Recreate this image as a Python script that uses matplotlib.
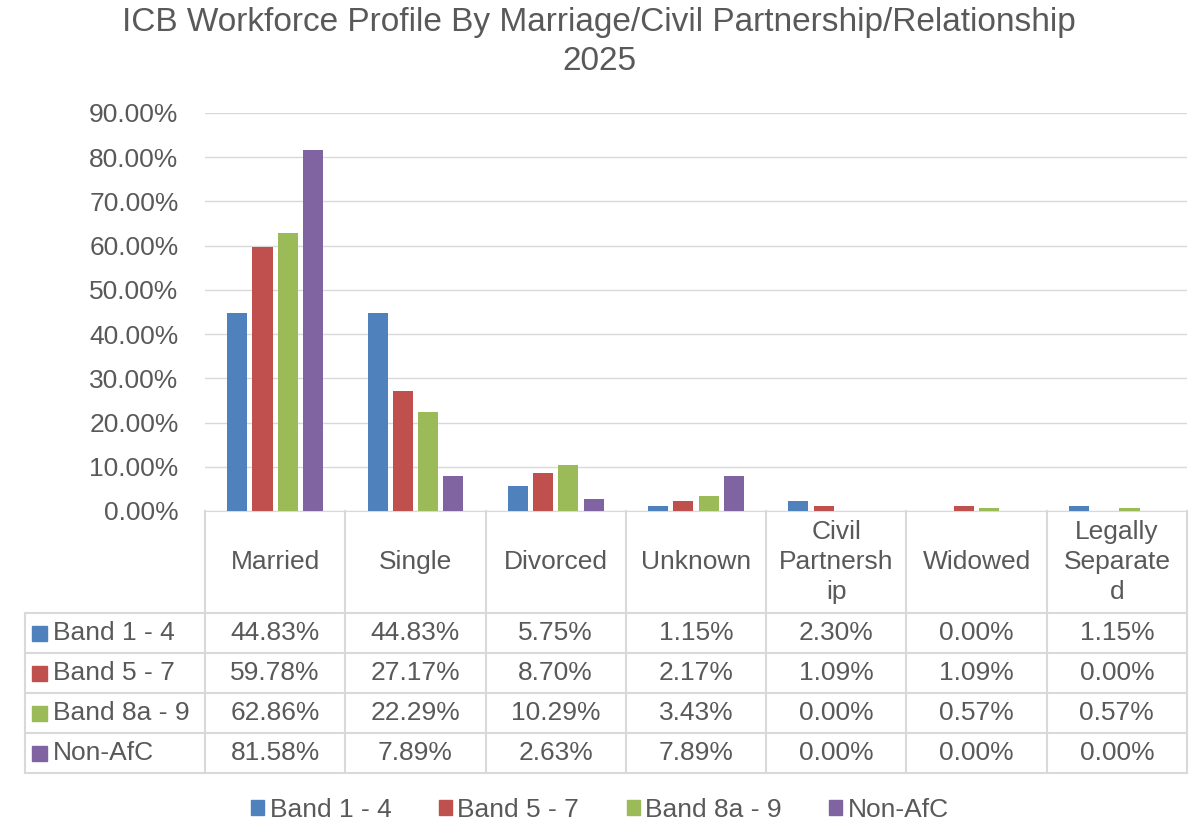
import matplotlib.pyplot as plt
from matplotlib.lines import Line2D
from matplotlib.patches import Rectangle, Patch
import numpy as np

plt.rcParams['font.family'] = ['Liberation Sans', 'DejaVu Sans']

categories = ['Married', 'Single', 'Divorced', 'Unknown', 'Civil Partnership', 'Widowed', 'Legally Separated']
header_labels = ['Married', 'Single', 'Divorced', 'Unknown', 'Civil\nPartnersh\nip', 'Widowed', 'Legally\nSeparate\nd']
series_names = ['Band 1 - 4', 'Band 5 - 7', 'Band 8a - 9', 'Non-AfC']
band_1_4 = [44.83, 44.83, 5.75, 1.15, 2.30, 0.00, 1.15]
band_5_7 = [59.78, 27.17, 8.70, 2.17, 1.09, 1.09, 0.00]
band_8a_9 = [62.86, 22.29, 10.29, 3.43, 0.00, 0.57, 0.57]
non_afc = [81.58, 7.89, 2.63, 7.89, 0.00, 0.00, 0.00]
series = [band_1_4, band_5_7, band_8a_9, non_afc]
colors = ['#4F81BD', '#C0504D', '#9BBB59', '#8064A2']
y_ticks = [0, 10, 20, 30, 40, 50, 60, 70, 80, 90]

W, H = 1198, 825
txt = '#595959'
grid_c = '#D9D9D9'
fs = 19


def fx(x):
    return x / W


def fy(y):
    return 1 - y / H


fig = plt.figure(figsize=(W / 100, H / 100), dpi=100)
left, right, top, base = 205, 1187, 113, 511
ax = fig.add_axes([fx(left), fy(base), (right - left) / W, (base - top) / H])

n = len(categories)
x = np.arange(n)
bw = 0.143
step = 0.18
for i, (vals, c) in enumerate(zip(series, colors)):
    ax.bar(x + (i - 1.5) * step, vals, width=bw, color=c, zorder=3)

ax.set_xlim(-0.5, n - 0.5)
ax.set_ylim(0, 90)
ax.set_yticks(y_ticks)
ax.set_yticklabels(['%.2f%%' % t for t in y_ticks], fontsize=fs, color=txt)
ax.set_xticks([])
ax.yaxis.grid(True, color=grid_c, linewidth=1, zorder=0)
ax.tick_params(axis='y', length=0, pad=19)
for s in ['top', 'right', 'left']:
    ax.spines[s].set_visible(False)
ax.spines['bottom'].set_color(grid_c)

fig.text(0.5, fy(22), 'ICB Workforce Profile By Marriage/Civil Partnership/Relationship',
         ha='center', va='center', fontsize=24, color=txt)
fig.text(0.5, fy(62), '2025', ha='center', va='center', fontsize=24, color=txt)

# data table below the axis
col_w = (right - left) / n
row_tops = [613, 653, 693, 733, 773]
tab_left = 25


def hline(x0, x1, y):
    fig.add_artist(Line2D([fx(x0), fx(x1)], [fy(y), fy(y)], color=grid_c, lw=1.5))


def vline(x, y0, y1):
    fig.add_artist(Line2D([fx(x), fx(x)], [fy(y0), fy(y1)], color=grid_c, lw=1.5))


for k in range(n + 1):
    vline(left + k * col_w, base, row_tops[-1])
vline(tab_left, row_tops[0], row_tops[-1])
for y in row_tops:
    hline(tab_left, right, y)

for k, lab in enumerate(header_labels):
    fig.text(fx(left + (k + 0.5) * col_w), fy((base + row_tops[0]) / 2), lab,
             ha='center', va='center', fontsize=fs, color=txt, linespacing=1.33)

for r, (name, vals, c) in enumerate(zip(series_names, series, colors)):
    yc = (row_tops[r] + row_tops[r + 1]) / 2
    fig.add_artist(Rectangle((fx(32), fy(yc + 7.5)), 15 / W, 15 / H, color=c,
                             transform=fig.transFigure))
    fig.text(fx(53), fy(yc), name, ha='left', va='center', fontsize=fs, color=txt)
    for k, v in enumerate(vals):
        fig.text(fx(left + (k + 0.5) * col_w), fy(yc), '%.2f%%' % v,
                 ha='center', va='center', fontsize=fs, color=txt)

handles = [Patch(color=c, label=nm) for c, nm in zip(colors, series_names)]
fig.legend(handles=handles, loc='center', bbox_to_anchor=(fx(600), fy(810)), ncol=4,
           frameon=False, fontsize=fs, handlelength=0.5, handleheight=0.5,
           handletextpad=0.2, columnspacing=1.8, labelcolor=txt,
           borderpad=0, borderaxespad=0)

fig.savefig('out.png', dpi=100)
